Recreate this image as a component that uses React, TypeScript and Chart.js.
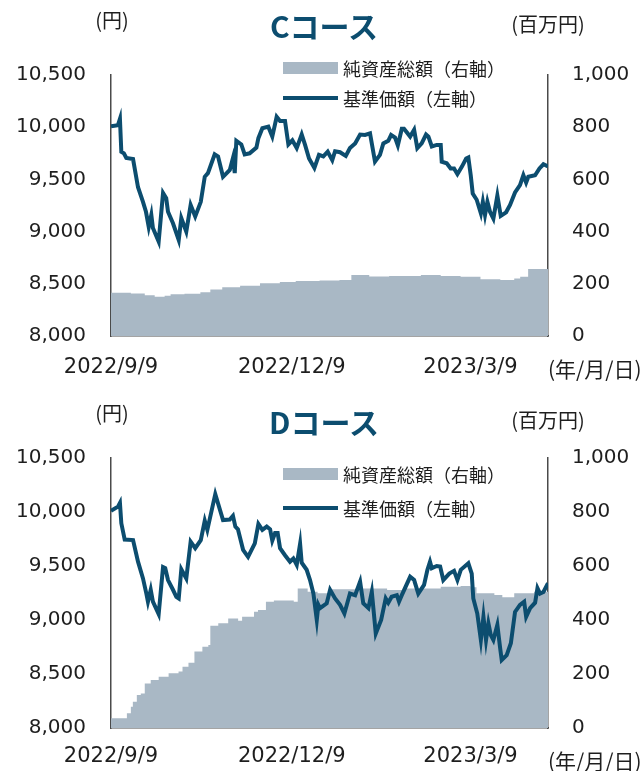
import React, { useEffect, useRef } from "react";
import { Chart, registerables } from "chart.js";

Chart.register(...registerables);

// ---- shared axis data ----
const xTickDays = [0, 91, 181];
const xTickLabels = ["2022/9/9", "2022/12/9", "2023/3/9"];
const navTicks = [8000, 8500, 9000, 9500, 10000, 10500];
const assetTicks = [0, 200, 400, 600, 800, 1000];

// ---- Cコース ----
const cNavDays = [0, 3.5, 4.5, 5.2, 6.5, 7.7, 11.1, 13.6, 16.1, 17.6, 19.0, 20.3, 21.1, 24.0, 26.2, 27.8, 28.7, 31.2, 34.1, 35.4, 37.9, 40.1, 42.4, 45.2, 47.2, 48.8, 52.2, 53.9, 56.4, 59.8, 61.4, 62.3, 63.1, 65.6, 67.3, 69.8, 73.2, 74.2, 76.2, 79.2, 81.2, 83.4, 85.1, 87.6, 89.3, 91.3, 93.5, 96.0, 97.7, 99.7, 102.4, 104.7, 106.9, 109.1, 111.4, 112.8, 115.3, 118.2, 120.3, 122.9, 125.4, 127.9, 130.4, 132.9, 135.4, 137.1, 139.6, 141.0, 143.0, 144.4, 146.4, 147.5, 150.6, 152.6, 154.2, 156.4, 158.6, 159.8, 161.5, 164.0, 166.0, 166.5, 169.0, 171.0, 172.7, 174.4, 176.6, 178.8, 179.9, 181.1, 182.1, 184.1, 186.2, 187.2, 188.3, 189.5, 190.8, 192.5, 194.5, 196.2, 198.9, 200.9, 203.4, 205.9, 207.6, 209.0, 210.1, 213.5, 215.7, 217.7, 220.0];
const cNavValues = [10010, 10020, 10080, 9765, 9750, 9705, 9695, 9425, 9285, 9190, 9045, 9160, 9035, 8905, 9370, 9320, 9190, 9080, 8920, 9130, 9000, 9255, 9145, 9285, 9525, 9560, 9740, 9720, 9525, 9590, 9705, 9560, 9870, 9835, 9740, 9750, 9805, 9895, 9990, 10005, 9910, 10100, 10060, 10060, 9835, 9875, 9800, 9930, 9830, 9700, 9610, 9735, 9720, 9765, 9685, 9770, 9760, 9725, 9800, 9845, 9930, 9925, 9940, 9670, 9735, 9845, 9870, 9925, 9900, 9825, 9985, 9985, 9910, 9975, 9800, 9845, 9930, 9910, 9815, 9830, 9830, 9670, 9655, 9605, 9605, 9550, 9620, 9700, 9710, 9540, 9365, 9305, 9175, 9285, 9160, 9285, 9190, 9125, 9345, 9150, 9185, 9255, 9375, 9445, 9540, 9470, 9525, 9540, 9605, 9645, 9625];
const cAssetDays = [0, 10, 17, 22, 27, 30, 37, 45, 50, 56, 65, 75, 85, 93, 105, 115, 121, 130, 140, 156, 166, 176, 186, 196, 203, 206, 210, 220];
const cAssetValues = [166, 163, 156, 150, 154, 160, 162, 168, 178, 187, 193, 202, 207, 211, 213, 215, 234, 228, 230, 234, 230, 227, 217, 215, 220, 227, 257, 259];

// ---- Dコース ----
const dNavDays = [0, 3.5, 4.5, 5.2, 6.9, 11.1, 13.6, 16.1, 17.8, 18.6, 20.0, 21.1, 24.0, 26.2, 27.3, 28.7, 31.2, 32.9, 34.1, 35.4, 37.9, 40.1, 42.4, 45.2, 47.2, 48.5, 52.5, 56.4, 59.8, 61.4, 62.6, 63.9, 66.5, 69.0, 72.4, 74.2, 76.2, 78.4, 80.1, 81.2, 82.6, 83.9, 85.1, 87.6, 90.1, 91.8, 93.5, 95.2, 96.0, 98.5, 100.2, 101.9, 103.6, 104.4, 105.2, 108.6, 110.3, 112.8, 115.3, 117.5, 120.3, 122.9, 125.4, 127.0, 129.6, 131.3, 133.3, 136.0, 138.3, 139.6, 141.3, 143.9, 145.0, 146.4, 150.6, 152.6, 154.7, 157.6, 159.3, 160.6, 161.5, 164.0, 165.7, 167.3, 170.3, 172.7, 174.4, 176.1, 179.9, 181.6, 182.4, 184.4, 186.2, 187.5, 188.8, 190.0, 191.2, 192.5, 194.5, 195.9, 196.7, 199.2, 201.3, 203.4, 205.9, 208.0, 209.0, 211.0, 213.5, 214.7, 216.0, 217.7, 220.0];
const dNavValues = [10010, 10050, 10085, 9895, 9745, 9740, 9540, 9385, 9245, 9170, 9280, 9170, 9055, 9490, 9480, 9370, 9280, 9215, 9200, 9470, 9385, 9725, 9665, 9740, 9920, 9835, 10165, 9925, 9930, 9965, 9865, 9840, 9650, 9585, 9710, 9890, 9835, 9865, 9840, 9735, 9805, 9805, 9665, 9600, 9540, 9570, 9510, 9705, 9530, 9465, 9370, 9245, 9000, 9140, 9110, 9155, 9280, 9200, 9140, 9060, 9245, 9230, 9355, 9155, 9110, 9260, 8875, 9000, 9200, 9160, 9215, 9230, 9170, 9230, 9400, 9370, 9245, 9325, 9465, 9540, 9480, 9500, 9495, 9370, 9430, 9455, 9370, 9465, 9525, 9430, 9200, 9060, 8815, 9030, 8815, 8970, 8860, 8815, 8955, 8740, 8630, 8675, 8785, 9075, 9140, 9170, 9030, 9110, 9160, 9295, 9245, 9260, 9340];
const dAssetDays = [0, 5, 8, 10, 11, 13, 15, 17, 20, 24, 29, 34, 36, 39, 42, 46, 49, 50, 54, 59, 64, 66, 72, 74, 78, 82, 92, 94, 99, 104, 111, 123, 139, 148, 166, 176, 181, 184, 193, 197, 203, 213, 220];
const dAssetValues = [36, 36, 55, 79, 97, 122, 128, 165, 178, 190, 203, 209, 227, 242, 283, 301, 307, 379, 388, 406, 397, 412, 431, 437, 468, 472, 468, 517, 505, 499, 514, 517, 511, 517, 523, 526, 521, 499, 493, 484, 499, 505, 517];

const NAV_COLOR = "#0c4d6f";
const AREA_COLOR = "#a9b8c5";
const AXIS_COLOR = "#4a4a4a";
const TEXT_COLOR = "#1e1e1e";
const Y_FONT = { family: "'DejaVu Sans', sans-serif", size: 20 };
const X_FONT = { family: "'DejaVu Sans', sans-serif", size: 21 };
const JP_FONT = "'Noto Sans CJK JP', sans-serif";

type Cfg = {
  title: string;
  navDays: number[];
  navValues: number[];
  assetDays: number[];
  assetValues: number[];
  plotTop: number;
  plotBottom: number;
  xPad: number;
  titleY: number;
  yenY: number;
  millionY: number;
  leg1Y: number;
  leg2Y: number;
};

const W = 643;
const H = 385;
const PLOT_LEFT = 111;
const PLOT_RIGHT = 548;

function CourseChart({ cfg }: { cfg: Cfg }) {
  const ref = useRef<HTMLCanvasElement | null>(null);
  useEffect(() => {
    if (!ref.current) return;
    const navData = cfg.navDays.map((d, i) => ({ x: d, y: cfg.navValues[i] }));
    const assetData = cfg.assetDays.map((d, i) => ({ x: d, y: cfg.assetValues[i] }));
    const border = { display: true, color: AXIS_COLOR, width: 1.5 };
    const chart = new Chart(ref.current, {
      type: "line",
      data: {
        datasets: [
          {
            label: "基準価額（左軸）",
            data: navData,
            yAxisID: "y",
            borderColor: NAV_COLOR,
            borderWidth: 4,
            pointRadius: 0,
            tension: 0,
            fill: false,
            order: 0,
          },
          {
            label: "純資産総額（右軸）",
            data: assetData,
            yAxisID: "y1",
            borderWidth: 0,
            borderColor: AREA_COLOR,
            backgroundColor: AREA_COLOR,
            pointRadius: 0,
            stepped: true,
            fill: "origin",
            order: 1,
          },
        ],
      },
      options: {
        responsive: false,
        animation: false,
        events: [],
        layout: { padding: { top: cfg.plotTop, left: 0, right: 0, bottom: 0 } },
        plugins: { legend: { display: false }, title: { display: false }, tooltip: { enabled: false } },
        scales: {
          x: {
            type: "linear",
            min: 0,
            max: 220,
            grid: { display: false, drawTicks: false },
            border,
            afterBuildTicks: (s: any) => {
              s.ticks = xTickDays.map((v) => ({ value: v }));
            },
            afterFit: (s: any) => {
              s.height = H - cfg.plotBottom;
            },
            ticks: {
              autoSkip: false,
              maxRotation: 0,
              padding: cfg.xPad,
              color: TEXT_COLOR,
              font: X_FONT,
              callback: (v: any) => {
                const i = xTickDays.indexOf(Number(v));
                return i >= 0 ? xTickLabels[i] : "";
              },
            },
          },
          y: {
            position: "left",
            min: navTicks[0],
            max: navTicks[navTicks.length - 1],
            grid: { display: false, drawTicks: false },
            border,
            afterBuildTicks: (s: any) => {
              s.ticks = navTicks.map((v) => ({ value: v }));
            },
            afterFit: (s: any) => {
              s.width = PLOT_LEFT;
            },
            ticks: {
              padding: 25,
              color: TEXT_COLOR,
              font: Y_FONT,
              callback: (v: any) => Number(v).toLocaleString("en-US"),
            },
          },
          y1: {
            position: "right",
            min: assetTicks[0],
            max: assetTicks[assetTicks.length - 1],
            grid: { display: false, drawTicks: false },
            border,
            afterBuildTicks: (s: any) => {
              s.ticks = assetTicks.map((v) => ({ value: v }));
            },
            afterFit: (s: any) => {
              s.width = W - PLOT_RIGHT;
            },
            ticks: {
              padding: 24,
              color: TEXT_COLOR,
              font: Y_FONT,
              callback: (v: any) => Number(v).toLocaleString("en-US"),
            },
          },
        },
      },
    } as any);
    return () => chart.destroy();
  }, [cfg]);

  const jp = (size: number, extra: React.CSSProperties = {}): React.CSSProperties => ({
    position: "absolute",
    fontFamily: JP_FONT,
    fontSize: size,
    color: TEXT_COLOR,
    lineHeight: 1,
    whiteSpace: "nowrap",
    ...extra,
  });

  return (
    <div style={{ position: "relative", width: W, height: H, overflow: "hidden" }}>
      <canvas ref={ref} width={W} height={H} style={{ display: "block", width: W, height: H }} />
      <div style={jp(20, { left: 112, top: cfg.yenY, transform: "translate(-50%,-50%)" })}>(円)</div>
      <div style={jp(20, { left: 548, top: cfg.millionY, transform: "translate(-50%,-50%)" })}>(百万円)</div>
      <div
        style={jp(30, {
          left: 324,
          top: cfg.titleY,
          transform: "translate(-50%,-50%)",
          fontWeight: 700,
          color: NAV_COLOR,
        })}
      >
        {cfg.title}
      </div>
      <div style={{ position: "absolute", left: 283, top: cfg.leg1Y - 6, width: 55, height: 12, background: AREA_COLOR }} />
      <div style={jp(18, { left: 343, top: cfg.leg1Y, transform: "translateY(-50%)" })}>純資産総額（右軸）</div>
      <div style={{ position: "absolute", left: 283, top: cfg.leg2Y - 2, width: 55, height: 4, background: NAV_COLOR }} />
      <div style={jp(18, { left: 343, top: cfg.leg2Y, transform: "translateY(-50%)" })}>基準価額（左軸）</div>
      <div style={jp(21, { left: 548, top: cfg.plotBottom + 32, transform: "translateY(-50%)" })}>(年/月/日)</div>
    </div>
  );
}

const cCfg: Cfg = {
  title: "Cコース",
  navDays: cNavDays,
  navValues: cNavValues,
  assetDays: cAssetDays,
  assetValues: cAssetValues,
  plotTop: 75,
  plotBottom: 336,
  xPad: 19,
  titleY: 25,
  yenY: 20,
  millionY: 24,
  leg1Y: 68,
  leg2Y: 98,
};

const dCfg: Cfg = {
  title: "Dコース",
  navDays: dNavDays,
  navValues: dNavValues,
  assetDays: dAssetDays,
  assetValues: dAssetValues,
  plotTop: 72,
  plotBottom: 342,
  xPad: 16,
  titleY: 35,
  yenY: 27,
  millionY: 34,
  leg1Y: 88,
  leg2Y: 122,
};

export default function App() {
  return (
    <div style={{ position: "absolute", left: 0, top: 0, width: W, height: 771, overflow: "hidden", background: "#fff" }}>
      <CourseChart cfg={cCfg} />
      <div style={{ height: 1 }} />
      <CourseChart cfg={dCfg} />
    </div>
  );
}
